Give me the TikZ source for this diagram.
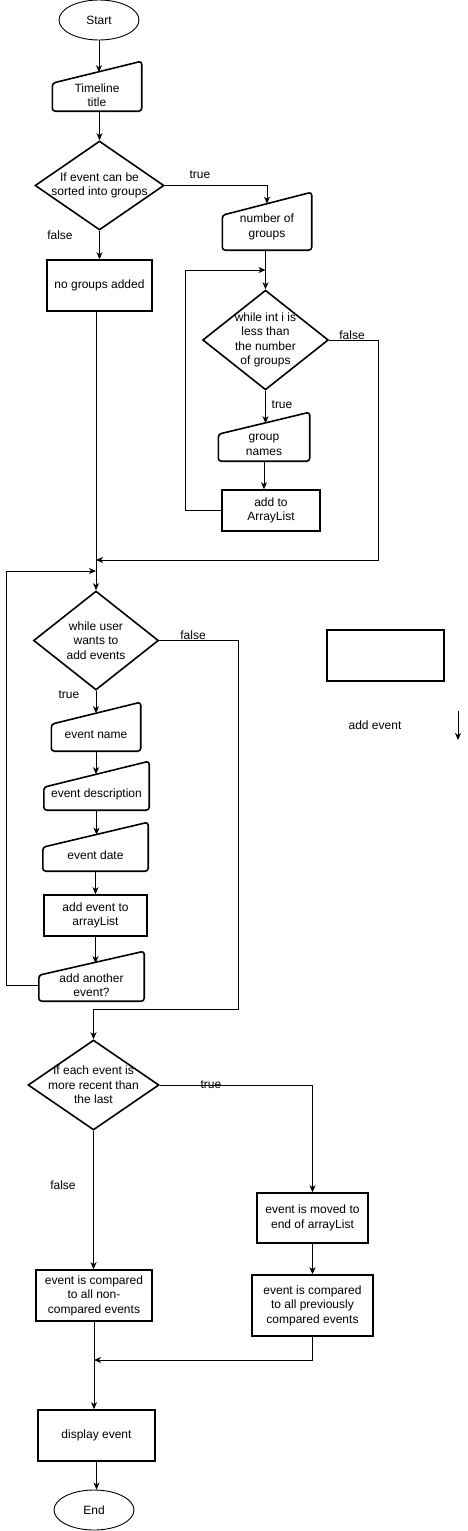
\documentclass[tikz,border=0pt]{standalone}
\usepackage{fontspec}
\setmainfont{Liberation Sans}
\usetikzlibrary{shapes.geometric,arrows.meta}
\tikzset{
  every node/.style={font=\fontsize{12}{14.5}\selectfont, align=center},
  term/.style={draw, ellipse, line width=0.9pt, minimum width=80pt, minimum height=40pt, inner sep=0pt},
  proc/.style={draw, rectangle, line width=1.6pt, inner sep=0pt},
  cond/.style={draw, diamond, line width=1.6pt},
  inbox/.style={inner sep=0pt, minimum height=32pt},
  flow/.style={line width=0.9pt, -{Stealth[length=7pt,width=6pt,inset=2pt]}}
}
\begin{document}
\begin{tikzpicture}[x=1pt,y=-1pt]
  \useasboundingbox (0,0) rectangle (467,1531);
  % upper part
  \node[term] (start) at (99,20) {Start};
  \node[inbox, minimum width=89pt] (title) at (97,95) {Timeline\\title};
  \node[cond, shape aspect=1.45, inner sep=-1pt, minimum width=129pt, minimum height=89pt] (d1) at (99.5,185.5) {If event can be\\sorted into groups};
  \node[proc, minimum width=105pt, minimum height=51pt] (nogroups) at (99.5,285.5) {no groups added};
  \node[inbox, minimum width=89pt, minimum height=46pt] (ngroups) at (267,227) {number of\\groups};
  \node[cond, shape aspect=1.26, inner sep=-1pt, minimum width=125pt, minimum height=99pt] (d2) at (265.5,340) {while int i is\\less than\\the number\\of groups};
  \node[inbox, minimum width=91pt] (gnames) at (264,445) {group\\names};
  \node[proc, minimum width=98pt, minimum height=41pt] (addAL) at (271,510.5) {add to\\ArrayList};
  % event loop
  \node[cond, shape aspect=1.26, inner sep=-1pt, minimum width=125pt, minimum height=99pt] (d3) at (96,640.5) {while user\\wants to\\add events};
  \node[inbox, minimum width=89pt] (ename) at (96,735) {event name};
  \node[inbox, minimum width=105pt] (edesc) at (96.5,794) {event description};
  \node[inbox, minimum width=105pt] (edate) at (95.5,855) {event date};
  \node[proc, minimum width=103pt, minimum height=41pt] (addEv) at (95.5,915.5) {add event to\\arrayList};
  \node[inbox, minimum width=105pt] (another) at (91.5,985) {add another\\event?};
  % sorting
  \node[cond, shape aspect=1.46, inner sep=-5pt, minimum width=131pt, minimum height=90pt] (d4) at (93.5,1085) {If each event is\\more recent than\\the last};
  \node[proc, minimum width=111pt, minimum height=50pt] (moved) at (312.5,1218) {event is moved to\\end of arrayList};
  \node[proc, minimum width=121pt, minimum height=61pt] (prev) at (312.5,1305.5) {event is compared\\to all previously\\compared events};
  \node[proc, minimum width=116pt, minimum height=51pt] (noncomp) at (94,1295.5) {event is compared\\to all non-\\compared events};
  \node[proc, minimum width=117pt, minimum height=51pt] (display) at (96.5,1435.5) {display event};
  \node[term] (stop) at (94,1510) {End};
  % loose items on the right
  \node[proc, minimum width=117pt, minimum height=51pt] (blank) at (385.5,655.5) {};
  \node (addev) at (375,725) {add event};
  \coordinate (a1) at (458,711);
  \coordinate (a2) at (458,740);
  % labels
  \node (t1) at (200,175) {true};
  \node (f1) at (60,235) {false};
  \node (f2) at (352,335) {false};
  \node (t2) at (282,405) {true};
  \node (f3) at (193,635) {false};
  \node (t3) at (69,695) {true};
  \node (t4) at (211,1085) {true};
  \node (f4) at (63,1185) {false};
  % joins
  \coordinate (j1) at (265.5,270);
  \coordinate (j2) at (96,560);
  \coordinate (j3) at (96,571);
  \coordinate (j5) at (94,1360);
  % manual input outlines
  \foreach \n/\r/\l in {title/50/28,ngroups/58/35,gnames/49/27,ename/49/27,edesc/49/23,edate/49/24,another/50/26}{
    \draw[line width=1.6pt, rounded corners=3pt] (\n.south west) -- (\n.south east) -- ([yshift=\r]\n.south east) -- ([yshift=\l]\n.south west) -- cycle;
    \pgfmathsetmacro\m{(\r+\l)/2}
    \coordinate (\n-top) at ([yshift=\m]\n.south);
  }
  \begin{scope}[flow]
    \draw (start) -- (start |- title-top);
    \draw (d1.north |- title.south) -- (d1.north);
    \draw (d1.east) -| (ngroups-top);
    \draw (d1.south) -- (nogroups.north);
    \draw (ngroups.south -| d2.north) -- (d2.north);
    \draw (d2.south) -- (d2.south |- gnames-top);
    \draw (gnames.south) -- (gnames.south |- addAL.north);
    \draw (addAL.west) -- ++(-36,0) |- (j1);
    \draw (d2.east) -- ++(49,0) |- (j2);
    \draw (nogroups.south -| d3.north) -- (d3.north);
    \draw (another.west) -- ++(-32,0) |- (j3);
    \draw (d3.south) -- (d3.south |- ename-top);
    \draw (ename.south) -- (ename.south |- edesc-top);
    \draw (edesc.south) -- (edesc.south |- edate-top);
    \draw (edate.south) -- (edate.south |- addEv.north);
    \draw (addEv.south) -- (addEv.south |- another-top);
    \draw (d3.east) -- ++(79,0) |- ([yshift=30]d4.north) -- (d4.north);
    \draw (d4.east) -| (moved.north);
    \draw (d4.south) -- (d4.south |- noncomp.north);
    \draw (moved.south) -- (moved.south |- prev.north);
    \draw (prev.south) |- (j5);
    \draw (noncomp.south) -- (noncomp.south |- display.north);
    \draw (display.south) -- (display.south |- stop.north);
    \draw (a1) -- (a2);
  \end{scope}
\end{tikzpicture}
\end{document}
